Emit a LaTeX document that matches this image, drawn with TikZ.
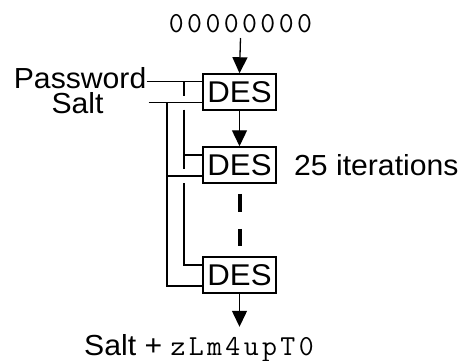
\documentclass[tikz,border=0pt]{standalone}
\usepackage{fontspec}
\setmainfont[FakeStretch=1.04]{Liberation Sans}
\newfontfamily\monof[LetterSpace=11.7]{Latin Modern Mono}
\usetikzlibrary{arrows.meta,calc}
\tikzset{
  desbox/.style={draw,line width=1.5pt,minimum width=73pt,minimum height=36pt,inner sep=0pt,font=\fontsize{30}{30}\selectfont},
  lbl/.style={inner sep=0pt,font=\fontsize{29}{29}\selectfont},
  mono/.style={inner sep=0pt,font=\fontsize{29}{29}\monof},
  wire/.style={line width=1.3pt},
  arr/.style={line width=1.3pt,-{Triangle[width=15pt,length=16pt]}},
  dashline/.style={line width=4pt,dash pattern=on 18pt off 17pt}
}
\begin{document}
\begin{tikzpicture}[x=1pt,y=-1pt,line cap=butt]
\useasboundingbox (0,0) rectangle (461,360);
% nodes
\node[mono,anchor=base] (zeros) at (240.5,32) {00000000};
\node[desbox] (des1) at (239.5,92) {DES};
\node[desbox] (des2) at (239.5,165) {DES};
\node[desbox] (des3) at (239.5,275) {DES};
\node[lbl,anchor=base east] (pw) at (146.5,88.5) {Password};
\node[lbl,anchor=base] (salt) at (77.5,113) {Salt};
\node[lbl,anchor=base west] (iter) at (294,175) {25 iterations};
\node[lbl,anchor=base west] (out) at (84,355) {Salt + {\fontsize{29}{29}\monof zLm4upT0}};
% input points on boxes
\coordinate (a1) at ($(des1.west)+(0,-10.5)$);
\coordinate (b1) at ($(des1.west)+(0,10.5)$);
\coordinate (a2) at ($(des2.west)+(0,-10)$);
\coordinate (b2) at ($(des2.west)+(0,11)$);
\coordinate (a3) at ($(des3.west)+(0,-10)$);
\coordinate (b3) at ($(des3.west)+(0,11)$);
\coordinate (ix) at (184,0);
\coordinate (ox) at (167,0);
% password and salt lines
\draw[wire] (pw.east |- a1) -- (a1);
\draw[wire] ($(pw.east |- b1)+(2,0)$) -- (b1);
% inner (password) line with crossing gaps
\draw[wire] (ix |- a1) -- ($(ix |- b1)+(0,-7)$);
\draw[wire] ($(ix |- b1)+(0,7)$) -- ($(ix |- b2)+(0,-7)$);
\draw[wire] (ix |- a2) -- (a2);
\draw[wire] ($(ix |- b2)+(0,7)$) -- (ix |- a3) -- (a3);
% outer (salt) line
\draw[wire] (ox |- b1) -- (ox |- b3) -- (b3);
\draw[wire] (ox |- b2) -- (b2);
% chain
\draw[arr] ($(zeros.base)+(0,6)$) -- (des1.north);
\draw[arr] (des1.south) -- (des2.north);
\draw[dashline] ($(des2.south)+(0,10)$) -- ($(des3.north)+(0,-10)$);
\draw[arr] (des3.south) -- ($(des3.south |- out.north)+(0,-7)$);
\end{tikzpicture}
\end{document}
